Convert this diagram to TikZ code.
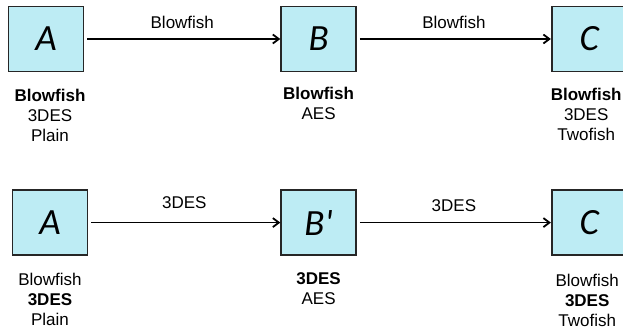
\documentclass[tikz,border=0pt]{standalone}
\usepackage{fontspec}
\setmainfont{Liberation Sans}
\newfontfamily\letterfont{Carlito}
\usetikzlibrary{arrows.meta,positioning}
\definecolor{boxcyan}{RGB}{189,236,244}

\begin{document}
\begin{tikzpicture}[
 x=1pt,y=1pt,
 node distance=196pt,
 box/.style={draw=black!85,line width=1.6pt,fill=boxcyan,minimum width=75pt,minimum height=65pt,inner sep=0pt,font=\letterfont\itshape\fontsize{37}{37}\selectfont},
 keys/.style={align=center,inner sep=0pt,font=\fontsize{17}{20}\selectfont},
 arrow/.style={-{Straight Barb[length=6pt,width=9pt]},line width=1.8pt,shorten <=3pt},
 lbl/.style={above=9pt,inner sep=0pt,font=\fontsize{17}{20}\selectfont}]
\useasboundingbox (0,0) rectangle (623,329);
% top row
\node[box] (a) at (46,290) {A};
\node[box,right=of a] (b) {B};
\node[box,right=of b,xshift=-2pt] (c) {C};
\draw[arrow] (a) -- node[lbl] {Blowfish} (b);
\draw[arrow] (b) -- node[lbl] {Blowfish} (c);
\node[keys,below=17pt of a,xshift=4pt] (ka) {\textbf{Blowfish}\\3DES\\Plain};
\node[keys,below=15pt of b] (kb) {\textbf{Blowfish}\\AES};
\node[keys,below=16pt of c,xshift=-3pt] (kc) {\textbf{Blowfish}\\3DES\\Twofish};
% bottom row
\node[box,below=117pt of a,xshift=4pt] (a2) {A};
\node[box,below=117pt of b] (b2) {B\textquotesingle};
\node[box,below=117pt of c] (c2) {C};
\draw[arrow] (a2) -- node[lbl,above=13pt] {3DES} (b2);
\draw[arrow] (b2) -- node[lbl,above=10pt] {3DES} (c2);
\node[keys,below=17pt of a2] (ka2) {Blowfish\\\textbf{3DES}\\Plain};
\node[keys,below=17pt of b2] (kb2) {\textbf{3DES}\\AES};
\node[keys,below=18pt of c2,xshift=-2pt] (kc2) {Blowfish\\\textbf{3DES}\\Twofish};
\end{tikzpicture}
\end{document}
